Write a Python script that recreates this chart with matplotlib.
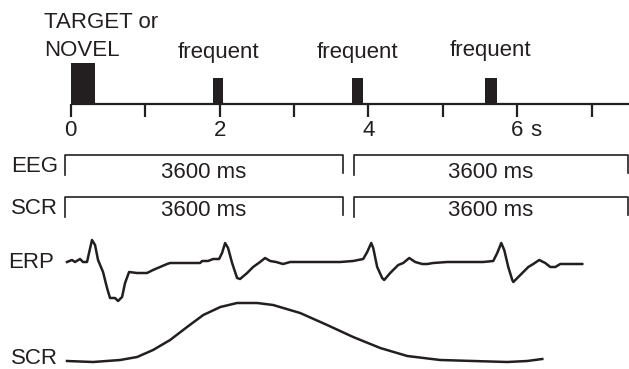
import matplotlib
matplotlib.use("Agg")
import matplotlib.pyplot as plt
import numpy as np

plt.rcParams['font.family'] = ['Liberation Sans', 'DejaVu Sans']

# stimuli (s)
stim_onset = [0.0, 1.91, 3.78, 5.57]
stim_dur = [0.32, 0.14, 0.15, 0.15]
stim_kind = ['target', 'frequent', 'frequent', 'frequent']
tick_s = [0, 1, 2, 3, 4, 5, 6, 7]
tick_lab = {0: '0', 2: '2', 4: '4', 6: '6'}

# recording epochs (s)
epoch_start = [-0.08, 3.80]
epoch_end = [3.66, 7.49]
epoch_lab = ['3600 ms', '3600 ms']

# ERP trace: time (ms), amplitude (arb. units, up positive)
erp_t = [-50, 17, 58, 125, 165, 219, 246, 286, 327, 367, 434, 488, 528, 595,
         636, 690, 730, 784, 891, 1025, 1106, 1200, 1294, 1335, 1738, 1765,
         1845, 1913, 1993, 2033, 2074, 2114, 2168, 2235, 2275, 2370, 2450,
         2544, 2611, 2679, 2759, 2853, 2948, 3620, 3794, 3929, 3983, 4037,
         4064, 4117, 4184, 4211, 4292, 4400, 4467, 4548, 4628, 4722, 4789,
         4870, 5058, 5541, 5676, 5730, 5784, 5824, 5878, 5932, 5946, 6040,
         6147, 6214, 6294, 6375, 6443, 6510, 6577, 6752, 6872]
erp_v = [0, 2, 0, 3, 0, 0, 9, 22, 17, 2, -10, -26, -36, -36,
         -39, -35, -21, -10, -11, -11, -8, -5, -2, -1, -1, 1,
         1, 3, 3, 9, 19, 14, -1, -16, -17, -11, -5,
         0, 4, 1, 0, -2, 0, 0, 1, 3, 10, 19,
         14, -5, -16, -18, -11, -3, -1, 4, 0, -2, -2,
         -1, 0, 0, 1, 9, 19, 12, -5, -18, -20, -13,
         -5, -2, 2, -1, -5, -5, -2, -2, -2]

# SCR trace
scr_t = [-50, 300, 664, 892, 1106, 1335, 1563, 1781, 2010, 2235, 2504, 2719,
         3082, 3445, 3794, 4158, 4521, 4964, 5407, 5864, 6133, 6335]
scr_v = [1, 0, 2, 5, 12, 22, 35, 47, 55, 59, 59, 57,
         49, 37, 25, 14, 6, 2, 1, 0, 1, 3]

ink = '#231f20'
fs = 16

fig = plt.figure(figsize=(6.29, 3.69), dpi=100)
ax = fig.add_axes([0, 0, 1, 1])
ax.set_xlim(-0.95, 7.50)
ax.set_ylim(369, 0)
ax.axis('off')

# timeline
axis_y = 104
ax.plot([0, 7.5], [axis_y, axis_y], color=ink, lw=1.6, solid_capstyle='butt')
ax.vlines(tick_s, axis_y, axis_y + 13, color=ink, lw=1.6)
for t, s in tick_lab.items():
    ax.text(t, 130, s, ha='center', va='center', fontsize=fs, color=ink)
ax.text(6.25, 130, 's', ha='center', va='center', fontsize=fs, color=ink)

for on, d, k in zip(stim_onset, stim_dur, stim_kind):
    top = 63 if k == 'target' else 78
    ax.bar(on, top - axis_y, width=d, bottom=axis_y, align='edge', color=ink, lw=0)
    if k == 'frequent':
        ax.text(on + d / 2, 58 if on < 5 else 56, 'frequent', ha='center',
                va='baseline', fontsize=fs, color=ink)
ax.text(-0.36, 28, 'TARGET or', ha='left', va='baseline', fontsize=fs, color=ink)
ax.text(-0.36, 56, 'NOVEL', ha='left', va='baseline', fontsize=fs, color=ink)

# epoch brackets
for lab, ytop, ylab in [('EEG', 155, 172), ('SCR', 197, 210)]:
    ax.text(-0.17, ytop + 12, lab, ha='right', va='center', fontsize=fs, color=ink)
    for a, b, s in zip(epoch_start, epoch_end, epoch_lab):
        ax.plot([a, a, b, b], [ytop + 20, ytop, ytop, ytop + 18], color=ink, lw=1.2)
        ax.text((a + b) / 2, ylab, s, ha='center', va='center', fontsize=fs, color=ink)

# traces
erp_base = 262
scr_base = 362
ax.plot(np.array(erp_t) / 1000, erp_base - np.array(erp_v), color=ink, lw=1.8,
        solid_joinstyle='round')
ax.plot(np.array(scr_t) / 1000, scr_base - np.array(scr_v), color=ink, lw=1.8,
        solid_joinstyle='round')
ax.text(-0.22, erp_base, 'ERP', ha='right', va='center', fontsize=fs, color=ink)
ax.text(-0.17, 358, 'SCR', ha='right', va='center', fontsize=fs, color=ink)

fig.savefig('out.png', dpi=100)
